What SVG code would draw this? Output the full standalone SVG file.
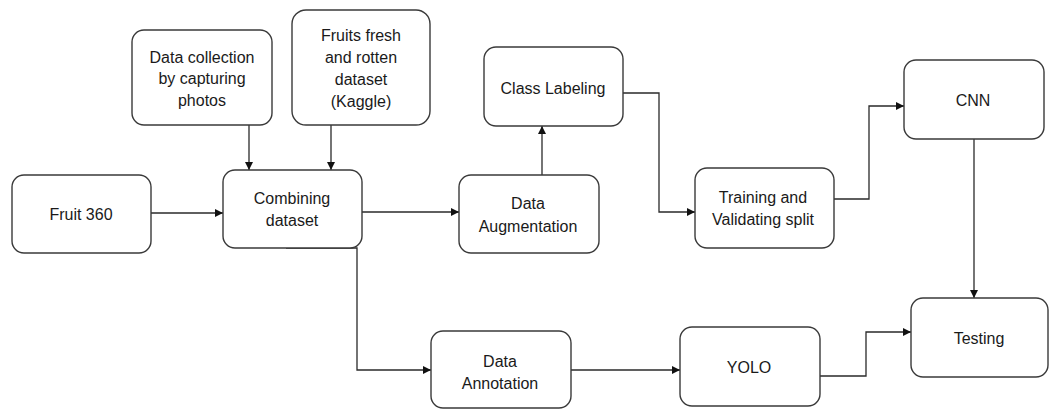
<svg xmlns="http://www.w3.org/2000/svg" width="1049" height="409" viewBox="0 0 1049 409">
  <style>
    .box { fill: #ffffff; stroke: #3a3a3a; stroke-width: 1.4; }
    .lbl { font-family: "Liberation Sans", Arial, sans-serif; font-size: 16px; fill: #1a1a1a; text-anchor: middle; }
    .wire { fill: none; stroke: #2a2a2a; stroke-width: 1.3; }
  </style>
  <defs>
    <marker id="arrow" viewBox="0 0 10 10" refX="10" refY="5" markerWidth="8" markerHeight="8" markerUnits="userSpaceOnUse" orient="auto">
      <path d="M0,0 L10,5 L0,10 z" fill="#111111"/>
    </marker>
  </defs>
  <rect width="1049" height="409" fill="#ffffff"/>

  <g id="connectors">
    <path class="wire" d="M151,213 H223" marker-end="url(#arrow)"/>
    <path class="wire" d="M249,125 V170" marker-end="url(#arrow)"/>
    <path class="wire" d="M331,125 V170" marker-end="url(#arrow)"/>
    <path class="wire" d="M362,212 H459" marker-end="url(#arrow)"/>
    <path class="wire" d="M542,175 V126" marker-end="url(#arrow)"/>
    <path class="wire" d="M623,93 H659 V212 H695" marker-end="url(#arrow)"/>
    <path class="wire" d="M834,199 H869 V106 H904" marker-end="url(#arrow)"/>
    <path class="wire" d="M974,139 V298" marker-end="url(#arrow)"/>
    <path class="wire" d="M286,248 H357 V370 H431" marker-end="url(#arrow)"/>
    <path class="wire" d="M571,370 H680" marker-end="url(#arrow)"/>
    <path class="wire" d="M820,376 H866 V332 H911" marker-end="url(#arrow)"/>
  </g>

  <g id="fruit360">
    <rect class="box" x="12" y="175" width="139" height="78" rx="12"/>
    <text class="lbl" x="81" y="220">Fruit 360</text>
  </g>
  <g id="data-collection">
    <rect class="box" x="132" y="30" width="140" height="95" rx="12"/>
    <text class="lbl" x="202" y="63">Data collection</text>
    <text class="lbl" x="202" y="84">by capturing</text>
    <text class="lbl" x="202" y="106">photos</text>
  </g>
  <g id="fruits-fresh-rotten">
    <rect class="box" x="292" y="10" width="138" height="115" rx="14"/>
    <text class="lbl" x="361" y="41">Fruits fresh</text>
    <text class="lbl" x="361" y="63">and rotten</text>
    <text class="lbl" x="361" y="85">dataset</text>
    <text class="lbl" x="361" y="107">(Kaggle)</text>
  </g>
  <g id="combining">
    <rect class="box" x="223" y="170" width="139" height="78" rx="12"/>
    <text class="lbl" x="292" y="204">Combining</text>
    <text class="lbl" x="292" y="226">dataset</text>
  </g>
  <g id="class-labeling">
    <rect class="box" x="484" y="47" width="139" height="79" rx="12"/>
    <text class="lbl" x="553" y="94">Class Labeling</text>
  </g>
  <g id="augmentation">
    <rect class="box" x="459" y="175" width="140" height="78" rx="12"/>
    <text class="lbl" x="528" y="209">Data</text>
    <text class="lbl" x="528" y="232">Augmentation</text>
  </g>
  <g id="train-split">
    <rect class="box" x="695" y="168" width="139" height="80" rx="12"/>
    <text class="lbl" x="763" y="203">Training and</text>
    <text class="lbl" x="763" y="225">Validating split</text>
  </g>
  <g id="cnn">
    <rect class="box" x="904" y="60" width="140" height="79" rx="12"/>
    <text class="lbl" x="973" y="106">CNN</text>
  </g>
  <g id="testing">
    <rect class="box" x="911" y="298" width="137" height="79" rx="12"/>
    <text class="lbl" x="979" y="344">Testing</text>
  </g>
  <g id="annotation">
    <rect class="box" x="431" y="331" width="140" height="77" rx="12"/>
    <text class="lbl" x="500" y="367">Data</text>
    <text class="lbl" x="500" y="389">Annotation</text>
  </g>
  <g id="yolo">
    <rect class="box" x="680" y="327" width="140" height="79" rx="12"/>
    <text class="lbl" x="749" y="373">YOLO</text>
  </g>
</svg>
